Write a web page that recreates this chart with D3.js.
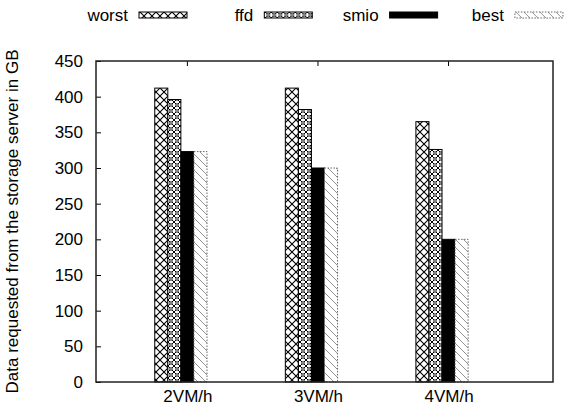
<!DOCTYPE html>
<html>
<head>
<meta charset="utf-8">
<script src="https://cdn.jsdelivr.net/npm/d3@7"></script>
<style>
  body { margin: 0; background: #fff; }
  text { font-family: "Liberation Sans", Arial, sans-serif; fill: #000; }
</style>
</head>
<body>
<svg id="chart" width="564" height="410"></svg>
<script>
'use strict';

const categories = ["2VM/h", "3VM/h", "4VM/h"];
const seriesNames = ["worst", "ffd", "smio", "best"];
const worst = [412, 412, 365];
const ffd = [396, 382, 326];
const smio = [323, 300, 200];
const best = [323, 300, 200];
const yTicks = [0, 50, 100, 150, 200, 250, 300, 350, 400, 450];

const seriesValues = [worst, ffd, smio, best];
const fontSize = 17;

const svg = d3.select("#chart");
const plot = {left: 96, right: 553, top: 61, bottom: 382};

// category index -> x position of the group centre
const x = d3.scaleLinear().domain([-0.7, 2.8]).range([plot.left, plot.right]);
const y = d3.scaleLinear().domain([0, 450]).range([plot.bottom, plot.top]);
const step = x(1) - x(0);
const barW = step / 10;

//Patterns
const defs = svg.append("defs");

const pWorst = defs.append("pattern").attr("id", "p-worst")
    .attr("patternUnits", "userSpaceOnUse").attr("width", 8).attr("height", 8);
pWorst.append("rect").attr("width", 8).attr("height", 8).attr("fill", "#fff");
pWorst.append("path").attr("d", "M0,0L8,8M8,0L0,8")
    .attr("stroke", "#000").attr("stroke-width", 1.1);

const pFfd = defs.append("pattern").attr("id", "p-ffd")
    .attr("patternUnits", "userSpaceOnUse").attr("width", 6).attr("height", 6);
pFfd.append("rect").attr("width", 6).attr("height", 6).attr("fill", "#fff");
pFfd.append("path").attr("d", "M0,0L6,6M6,0L0,6")
    .attr("stroke", "#000").attr("stroke-width", 1);
pFfd.append("circle").attr("cx", 3).attr("cy", 3).attr("r", 1.3)
    .attr("fill", "#fff").attr("stroke", "#000").attr("stroke-width", 0.8);

const pBest = defs.append("pattern").attr("id", "p-best")
    .attr("patternUnits", "userSpaceOnUse").attr("width", 8).attr("height", 8);
pBest.append("rect").attr("width", 8).attr("height", 8).attr("fill", "#fff");
pBest.append("path").attr("d", "M0,0L8,8M-4,4L4,12M4,-4L12,4")
    .attr("stroke", "#777").attr("stroke-width", 0.8);

const fills = ["url(#p-worst)", "url(#p-ffd)", "#000", "url(#p-best)"];
const strokes = ["#000", "#000", "#000", "#666"];
const dashes = [null, null, null, "1.5,1.5"];

// Bars
seriesValues.forEach(function (values, k) {
    svg.append("g").selectAll("rect")
        .data(values)
        .join("rect")
        .attr("x", function (d, i) { return x(i) + (k - 2.5) * barW; })
        .attr("y", function (d) { return y(d); })
        .attr("width", barW)
        .attr("height", function (d) { return y(0) - y(d); })
        .attr("fill", fills[k])
        .attr("stroke", strokes[k])
        .attr("stroke-width", 1)
        .attr("stroke-dasharray", dashes[k]);
});

// Axes
const yAxis = d3.axisLeft(y).tickValues(yTicks).tickSizeInner(-5).tickSizeOuter(0).tickPadding(13);
const gy = svg.append("g").attr("transform", "translate(" + plot.left + ",0)").call(yAxis);
gy.select(".domain").remove();
gy.selectAll("line").attr("stroke", "#000");
gy.selectAll("text").attr("font-size", fontSize).attr("font-family", "Liberation Sans, Arial, sans-serif");

const xAxis = d3.axisBottom(x).tickValues([0, 1, 2])
    .tickFormat(function (d) { return categories[d]; })
    .tickSizeInner(-5).tickSizeOuter(0).tickPadding(8);
const gx = svg.append("g").attr("transform", "translate(0," + plot.bottom + ")").call(xAxis);
gx.select(".domain").remove();
gx.selectAll("line").attr("stroke", "#000");
gx.selectAll("text").attr("font-size", fontSize).attr("font-family", "Liberation Sans, Arial, sans-serif");

// mirrored ticks on top
svg.append("g").selectAll("line")
    .data([0, 1, 2])
    .join("line")
    .attr("x1", function (d) { return x(d); })
    .attr("x2", function (d) { return x(d); })
    .attr("y1", plot.top)
    .attr("y2", plot.top + 5)
    .attr("stroke", "#000");

// frame
svg.append("rect")
    .attr("x", plot.left).attr("y", plot.top)
    .attr("width", plot.right - plot.left).attr("height", plot.bottom - plot.top)
    .attr("fill", "none").attr("stroke", "#222").attr("stroke-width", 1.5);

// y label
svg.append("text")
    .attr("transform", "translate(18," + ((plot.top + plot.bottom) / 2) + ") rotate(-90)")
    .attr("text-anchor", "middle")
    .attr("font-size", fontSize)
    .text("Data requested from the storage server in GB");

// Legend
const legend = svg.append("g").selectAll("g")
    .data(seriesNames)
    .join("g")
    .attr("transform", function (d, i) { return "translate(" + (128 + i * 125.3) + ",0)"; });
legend.append("text")
    .attr("x", 0).attr("y", 21)
    .attr("text-anchor", "end")
    .attr("font-size", fontSize)
    .text(function (d) { return d; });
legend.append("rect")
    .attr("x", 11).attr("y", 12)
    .attr("width", 48).attr("height", 6)
    .attr("fill", function (d, i) { return fills[i]; })
    .attr("stroke", function (d, i) { return strokes[i]; })
    .attr("stroke-dasharray", function (d, i) { return dashes[i]; });
</script>
</body>
</html>
